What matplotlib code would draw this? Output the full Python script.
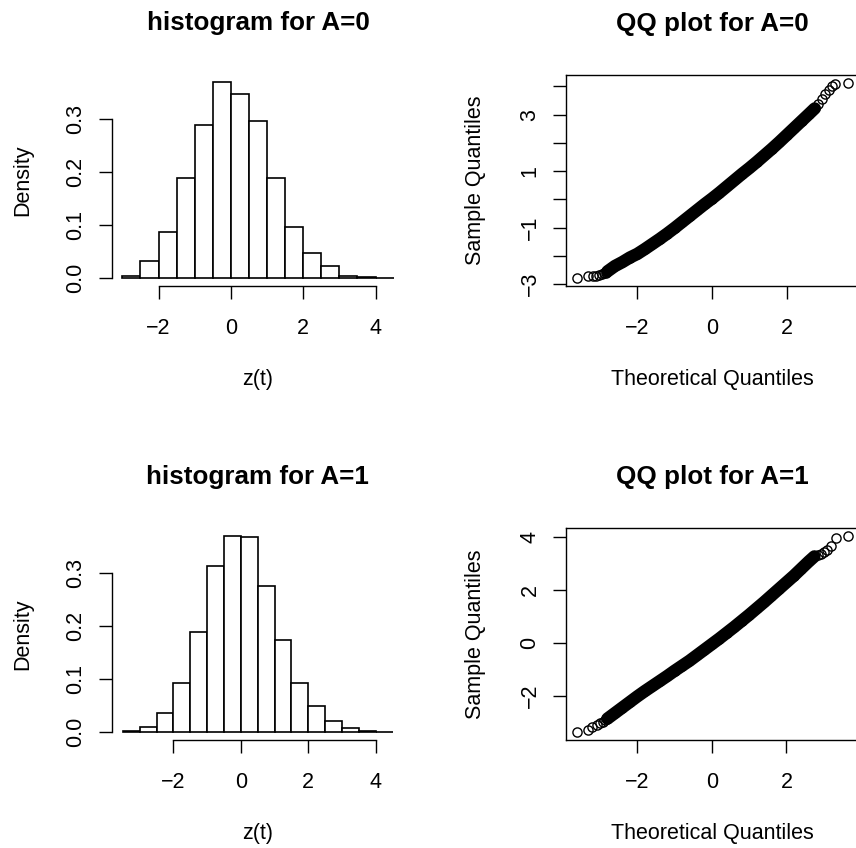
import numpy as np
import matplotlib.pyplot as plt

plt.rcParams['font.family'] = ['Liberation Sans', 'DejaVu Sans']

W, H = 856, 848

# histogram densities (bin width 0.5)
edges_a0 = [-3.0, -2.5, -2.0, -1.5, -1.0, -0.5, 0.0, 0.5, 1.0, 1.5, 2.0, 2.5, 3.0, 3.5, 4.0, 4.5]
dens_a0 = [0.005, 0.033, 0.087, 0.189, 0.289, 0.371, 0.348, 0.297, 0.189, 0.097, 0.048,
           0.023, 0.005, 0.002, 0.001]

edges_a1 = [-3.5, -3.0, -2.5, -2.0, -1.5, -1.0, -0.5, 0.0, 0.5, 1.0, 1.5, 2.0, 2.5, 3.0, 3.5, 4.0, 4.5]
dens_a1 = [0.003, 0.009, 0.036, 0.093, 0.188, 0.312, 0.369, 0.367, 0.275, 0.173, 0.093,
           0.049, 0.021, 0.0075, 0.0025, 0.001]

# normal QQ points (theoretical, sample)
qq_x_a0 = [-3.62, -3.33, -3.20, -3.10, -3.02, -2.95, -2.90, -2.85,
           -2.8, -2.6, -2.4, -2.2, -2.0, -1.8, -1.6, -1.4, -1.2, -1.0, -0.8, -0.6, -0.4, -0.2,
           0.0, 0.2, 0.4, 0.6, 0.8, 1.0, 1.2, 1.4, 1.6, 1.8, 2.0, 2.2, 2.4, 2.6, 2.75,
           2.85, 2.94, 3.03, 3.12, 3.21, 3.30, 3.63]
qq_y_a0 = [-2.79, -2.73, -2.72, -2.70, -2.67, -2.64, -2.62, -2.59,
           -2.55, -2.36, -2.22, -2.06, -1.93, -1.76, -1.58, -1.40, -1.21, -1.01, -0.80, -0.59,
           -0.38, -0.17, 0.03, 0.24, 0.46, 0.68, 0.90, 1.11, 1.33, 1.56, 1.79, 2.03, 2.28,
           2.53, 2.78, 3.03, 3.22, 3.39, 3.57, 3.72, 3.86, 4.00, 4.10, 4.14]
band_a0 = slice(8, 37)

qq_x_a1 = [-3.62, -3.33, -3.20, -3.08, -3.00, -2.92, -2.86,
           -2.8, -2.6, -2.4, -2.2, -2.0, -1.8, -1.6, -1.4, -1.2, -1.0, -0.8, -0.6, -0.4, -0.2,
           0.0, 0.2, 0.4, 0.6, 0.8, 1.0, 1.2, 1.4, 1.6, 1.8, 2.0, 2.2, 2.4, 2.6, 2.75,
           2.85, 2.92, 3.00, 3.09, 3.19, 3.33, 3.64]
qq_y_a1 = [-3.37, -3.28, -3.18, -3.10, -3.04, -2.98, -2.92,
           -2.86, -2.65, -2.44, -2.23, -2.02, -1.82, -1.63, -1.44, -1.25, -1.05, -0.86, -0.67,
           -0.46, -0.25, -0.04, 0.17, 0.39, 0.61, 0.84, 1.07, 1.31, 1.55, 1.80, 2.05, 2.30,
           2.55, 2.82, 3.09, 3.28, 3.33, 3.38, 3.43, 3.52, 3.68, 3.99, 4.07]
band_a1 = slice(7, 36)

FS = 15.5
TFS = 18.7

fig = plt.figure(figsize=(W / 100, H / 100), dpi=100, facecolor='white')


def place(l, t, r, b):
    return fig.add_axes([l / W, 1 - b / H, (r - l) / W, (b - t) / H])


def pad4(lo, hi):
    d = (hi - lo) * 0.04
    return lo - d, hi + d


def ticks(ax):
    ax.tick_params(direction='out', length=9.4, width=1.0, labelsize=FS)
    ax.tick_params(axis='x', pad=14)
    ax.tick_params(axis='y', pad=9)
    for s in ax.spines.values():
        s.set_linewidth(1.0)


def hist_panel(box, edges, dens, title):
    l, t, r, b = box
    ax = place(l, t, r, b)
    ax.bar(edges[:-1], dens, width=np.diff(edges), align='edge',
           facecolor='white', edgecolor='black', linewidth=1.2)
    ax.set_xlim(pad4(edges[0], edges[-1]))
    ax.set_ylim(pad4(0, max(dens)))
    ax.spines['top'].set_visible(False)
    ax.spines['right'].set_visible(False)
    ax.spines['left'].set_bounds(0, 0.3)
    ax.spines['bottom'].set_bounds(-2, 4)
    ax.set_xticks([-2, 0, 2, 4], ['\u22122', '0', '2', '4'])
    ax.set_yticks([0, 0.1, 0.2, 0.3])
    ax.set_yticklabels(['0.0', '0.1', '0.2', '0.3'], rotation=90, va='center')
    ticks(ax)
    cx = (l + r) / 2
    fig.text(cx / W, 1 - (t - 44) / H, title, ha='center', va='baseline',
             fontsize=TFS, fontweight='bold')
    fig.text(cx / W, 1 - (b + 93) / H, 'z(t)', ha='center', va='center', fontsize=FS)
    fig.text(22.5 / W, 1 - (t + b) / 2 / H, 'Density', ha='center', va='center',
             rotation=90, fontsize=FS)


def qq_panel(box, x, y, band, yt, ylab, title):
    l, t, r, b = box
    ax = place(l, t, r, b)
    ax.plot(x[band], y[band], '-', color='black', lw=9.0, solid_capstyle='round')
    ax.plot(x, y, 'o', mfc='none', mec='black', ms=6.6, mew=1.0)
    ax.set_xlim(pad4(min(x), max(x)))
    ax.set_ylim(pad4(min(y), max(y)))
    ax.set_xticks([-2, 0, 2], ['\u22122', '0', '2'])
    ax.set_yticks(yt)
    ax.set_yticklabels(ylab, rotation=90, va='center')
    ticks(ax)
    cx = 712
    fig.text(cx / W, 1 - (t - 44) / H, title, ha='center', va='baseline',
             fontsize=TFS, fontweight='bold')
    fig.text(cx / W, 1 - (b + 93) / H, 'Theoretical Quantiles', ha='center', va='center',
             fontsize=FS)
    fig.text(475 / W, 1 - (t + b) / 2 / H, 'Sample Quantiles', ha='center', va='center',
             rotation=90, fontsize=FS)


hist_panel((111.5, 74, 404.5, 286), edges_a0, dens_a0, 'histogram for A=0')
qq_panel((566, 74.7, 858.4, 286), qq_x_a0, qq_y_a0, band_a0,
         [-3, -2, -1, 0, 1, 2, 3, 4], ['\u22123', '', '\u22121', '', '1', '', '3', ''],
         'QQ plot for A=0')
hist_panel((112, 528, 403.5, 740), edges_a1, dens_a1, 'histogram for A=1')
qq_panel((566, 527.7, 858.4, 740), qq_x_a1, qq_y_a1, band_a1,
         [-2, 0, 2, 4], ['\u22122', '0', '2', '4'], 'QQ plot for A=1')

fig.savefig('out.png', dpi=100)
